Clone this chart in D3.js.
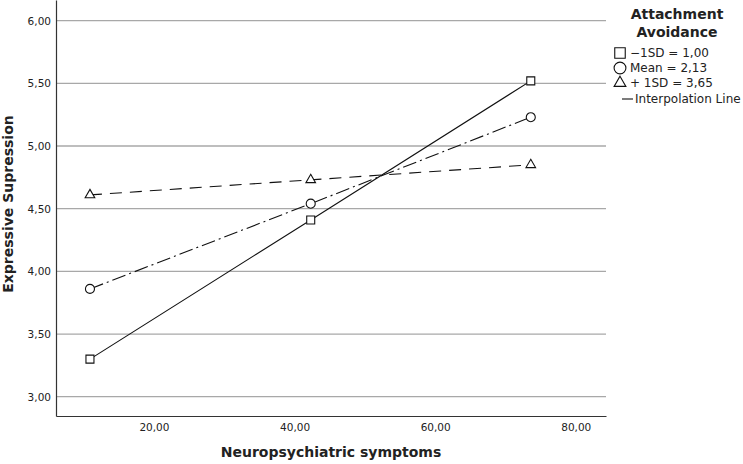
<!DOCTYPE html>
<html>
<head>
<meta charset="utf-8">
<script src="https://cdn.jsdelivr.net/npm/d3@7"></script>
<style>
  body { margin: 0; background: #fff; }
  text { font-family: "DejaVu Sans", sans-serif; fill: #222; }
</style>
</head>
<body>
<div class="chart"></div>
<script>
// values
var symptoms = [10.9, 42.3, 73.6];
var lowAvoid = [3.30, 4.41, 5.52];
var meanAvoid = [3.86, 4.54, 5.23];
var highAvoid = [4.61, 4.73, 4.85];
var yTicks = [3.0, 3.5, 4.0, 4.5, 5.0, 5.5, 6.0];
var xTicks = [20, 40, 60, 80];
var legendLabels = ["\u22121SD = 1,00", "Mean = 2,13", "+ 1SD = 3,65"];

var svgWidth = 743;
var svgHeight = 464;

var margin = { top: 0, right: 137, bottom: 48, left: 56 };
var width = svgWidth - margin.left - margin.right;
var height = svgHeight - margin.top - margin.bottom;

var svg = d3.select(".chart")
  .append("svg")
  .attr("width", svgWidth)
  .attr("height", svgHeight);

var chartGroup = svg.append("g")
  .attr("transform", `translate(${margin.left}, ${margin.top})`);

var xLinearScale = d3.scaleLinear()
  .domain([6.07, 84.3])
  .range([0, width]);

var yLinearScale = d3.scaleLinear()
  .domain([2.846, 6.165])
  .range([height, 0]);

var fmt = function(d) { return d3.format(".2f")(d).replace(".", ","); };

// gridlines
chartGroup.selectAll(".grid")
  .data(yTicks)
  .enter()
  .append("line")
  .attr("x1", 0)
  .attr("x2", width)
  .attr("y1", d => yLinearScale(d))
  .attr("y2", d => yLinearScale(d))
  .attr("stroke", "#a8a8a8")
  .attr("stroke-width", 1.3);

var leftAxis = d3.axisLeft(yLinearScale).tickValues(yTicks).tickFormat(fmt).tickSize(0).tickPadding(5);
var bottomAxis = d3.axisBottom(xLinearScale).tickValues(xTicks).tickFormat(fmt).tickSize(0).tickPadding(8);

var yAxis = chartGroup.append("g").call(leftAxis);
var xAxis = chartGroup.append("g")
  .attr("transform", `translate(0, ${height})`)
  .call(bottomAxis);

[yAxis, xAxis].forEach(function(ax) {
  ax.select(".domain").attr("stroke", "#333").attr("stroke-width", 1.2);
  ax.selectAll("text")
    .attr("font-size", "10.5px")
    .attr("font-family", "DejaVu Sans, sans-serif")
    .attr("fill", "#222");
});

// series
var series = [
  { values: lowAvoid, shape: "square", dash: null },
  { values: meanAvoid, shape: "circle", dash: "14,4,2,4" },
  { values: highAvoid, shape: "triangle", dash: "12,8" }
];

var line = d3.line()
  .x((d, i) => xLinearScale(symptoms[i]))
  .y(d => yLinearScale(d));

series.forEach(function(s) {
  chartGroup.append("path")
    .datum(s.values)
    .attr("d", line)
    .attr("fill", "none")
    .attr("stroke", "#111")
    .attr("stroke-width", 1.1)
    .attr("stroke-dasharray", s.dash);
});

var symbolFor = {
  square: d3.symbol().type(d3.symbolSquare).size(64),
  circle: d3.symbol().type(d3.symbolCircle).size(64),
  triangle: d3.symbol().type(d3.symbolTriangle).size(40)
};

series.forEach(function(s) {
  chartGroup.selectAll(".pt-" + s.shape)
    .data(s.values)
    .enter()
    .append("path")
    .attr("d", symbolFor[s.shape])
    .attr("transform", (d, i) => `translate(${xLinearScale(symptoms[i])}, ${yLinearScale(d)})`)
    .attr("fill", "#fff")
    .attr("stroke", "#111")
    .attr("stroke-width", 1.1);
});

// axis titles
chartGroup.append("text")
  .attr("x", width / 2)
  .attr("y", height + 41)
  .attr("text-anchor", "middle")
  .attr("font-size", "14px")
  .attr("font-weight", "bold")
  .text("Neuropsychiatric symptoms");

chartGroup.append("text")
  .attr("transform", "rotate(-90)")
  .attr("x", -204)
  .attr("y", -43)
  .attr("text-anchor", "middle")
  .attr("font-size", "14px")
  .attr("font-weight", "bold")
  .text("Expressive Supression");

// legend
var legend = svg.append("g").attr("transform", "translate(677, 0)");

legend.append("text")
  .attr("y", 19)
  .attr("text-anchor", "middle")
  .attr("font-size", "14px")
  .attr("font-weight", "bold")
  .text("Attachment");

legend.append("text")
  .attr("y", 37)
  .attr("text-anchor", "middle")
  .attr("font-size", "14px")
  .attr("font-weight", "bold")
  .text("Avoidance");

var legendItems = legend.selectAll(".item")
  .data(series)
  .enter()
  .append("g")
  .attr("transform", (d, i) => `translate(-57, ${53 + i * 15})`);

legendItems.append("path")
  .attr("d", d => (d.shape === "triangle" ? d3.symbol().type(d3.symbolTriangle).size(60) : d3.symbol().type(d.shape === "square" ? d3.symbolSquare : d3.symbolCircle).size(110))())
  .attr("fill", "#fff")
  .attr("stroke", "#111")
  .attr("stroke-width", 1.1);

legendItems.append("text")
  .attr("x", 10)
  .attr("dy", "0.35em")
  .attr("font-size", "12px")
  .text((d, i) => legendLabels[i]);

legend.append("line")
  .attr("x1", -55)
  .attr("x2", -44)
  .attr("y1", 99)
  .attr("y2", 99)
  .attr("stroke", "#111")
  .attr("stroke-width", 1.1);

legend.append("text")
  .attr("x", -42)
  .attr("y", 99)
  .attr("dy", "0.35em")
  .attr("font-size", "12px")
  .text("Interpolation Line");
</script>
</body>
</html>
